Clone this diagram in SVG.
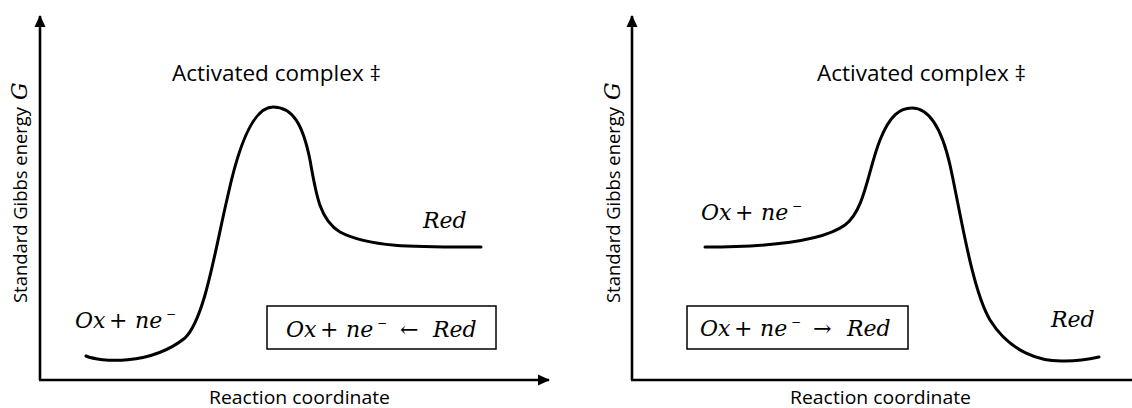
<svg xmlns="http://www.w3.org/2000/svg" width="1132" height="408" viewBox="0 0 1132 408">
<style>
.axis{stroke:#000;stroke-width:2.6;fill:none}
.curve{stroke:#000;stroke-width:3;fill:none;stroke-linecap:round}
.lbl{font-family:"Open Sans","Liberation Sans",sans-serif;font-size:19px;fill:#000}
.ttl{font-family:"Open Sans","Liberation Sans",sans-serif;font-size:22px;fill:#000}
.m{font-family:"DejaVu Serif","Liberation Serif",serif;font-size:22px;fill:#000}
.i{font-style:italic}
.sup{font-size:12px}
.box{fill:#fff;stroke:#000;stroke-width:1.5}
</style>
<defs>
<marker id="ah" markerUnits="userSpaceOnUse" markerWidth="12" markerHeight="12" viewBox="0 0 12 12" refX="11" refY="6" orient="auto">
<path d="M0,0.5 L12,6 L0,11.5 Z" fill="#000"/>
</marker>
</defs>
<rect width="1132" height="408" fill="#fff"/>
<g id="connectors">
<path class="axis" d="M40,380 V16" marker-end="url(#ah)"/>
<path class="axis" d="M39,380 H549" marker-end="url(#ah)"/>
<path class="axis" d="M632,380 V16" marker-end="url(#ah)"/>
<path class="axis" d="M631,380 H1140"/>
<path class="curve" d="M86,356 C100,362 150,366 185,338 C205,318 215,250 228,195 C240,140 255,107 273,107 C293,107 303,125 310,160 C316,195 320,220 340,232 C370,248 420,247 481,247"/>
<path class="curve" d="M705,247 C760,247 820,243 845,225 C865,210 868,170 880,140 C890,115 900,108 912,108 C930,108 942,130 950,165 C960,210 972,290 990,320 C1010,352 1040,362 1065,361 C1080,361 1090,359 1099,357"/>
</g>
<g id="left-axes-labels">
<text class="lbl" transform="translate(27,303) rotate(-90)" x="0" y="0" textLength="196" lengthAdjust="spacingAndGlyphs">Standard Gibbs energy</text>
<text class="m i" transform="translate(27,303) rotate(-90)" x="203" y="0">G</text>
<text class="lbl" x="209" y="404" textLength="181" lengthAdjust="spacingAndGlyphs">Reaction coordinate</text>
</g>
<g id="left-complex">
<text class="ttl" x="172" y="81" textLength="209" lengthAdjust="spacingAndGlyphs">Activated complex ‡</text>
</g>
<g id="left-ox">
<text class="m"><tspan class="i" x="75" y="328">Ox</tspan><tspan x="109" y="328">+</tspan><tspan class="i" x="135" y="328">ne</tspan><tspan class="sup" x="166" y="318">−</tspan></text>
</g>
<g id="left-red">
<text class="m i" x="423" y="228">Red</text>
</g>
<g id="left-box">
<rect class="box" x="267" y="306" width="229" height="43"/>
<text class="m"><tspan class="i" x="286" y="337">Ox</tspan><tspan x="320" y="337">+</tspan><tspan class="i" x="346" y="337">ne</tspan><tspan class="sup" x="377" y="327">−</tspan><tspan x="400" y="337">←</tspan><tspan class="i" x="433" y="337">Red</tspan></text>
</g>
<g id="right-axes-labels">
<text class="lbl" transform="translate(620,303) rotate(-90)" x="0" y="0" textLength="196" lengthAdjust="spacingAndGlyphs">Standard Gibbs energy</text>
<text class="m i" transform="translate(620,303) rotate(-90)" x="203" y="0">G</text>
<text class="lbl" x="790" y="404" textLength="181" lengthAdjust="spacingAndGlyphs">Reaction coordinate</text>
</g>
<g id="right-complex">
<text class="ttl" x="817" y="81" textLength="209" lengthAdjust="spacingAndGlyphs">Activated complex ‡</text>
</g>
<g id="right-ox">
<text class="m"><tspan class="i" x="701" y="220">Ox</tspan><tspan x="735" y="220">+</tspan><tspan class="i" x="761" y="220">ne</tspan><tspan class="sup" x="792" y="210">−</tspan></text>
</g>
<g id="right-red">
<text class="m i" x="1051" y="327">Red</text>
</g>
<g id="right-box">
<rect class="box" x="687" y="306" width="221" height="43"/>
<text class="m"><tspan class="i" x="700" y="336">Ox</tspan><tspan x="734" y="336">+</tspan><tspan class="i" x="760" y="336">ne</tspan><tspan class="sup" x="791" y="326">−</tspan><tspan x="813" y="336">→</tspan><tspan class="i" x="847" y="336">Red</tspan></text>
</g>
</svg>
